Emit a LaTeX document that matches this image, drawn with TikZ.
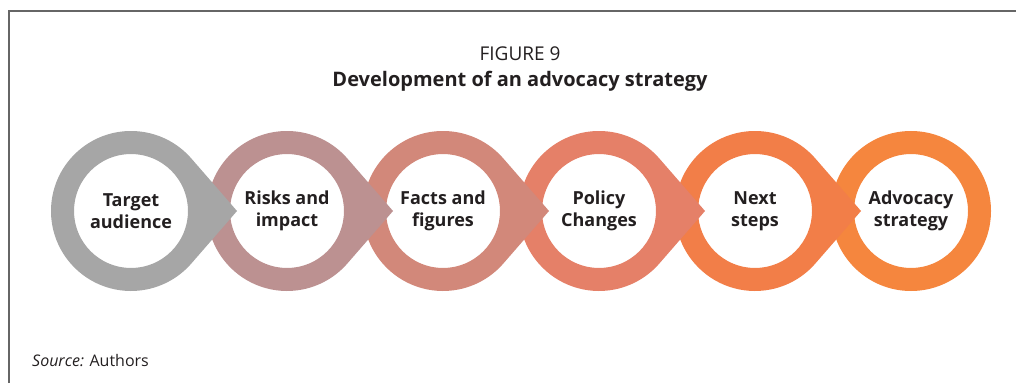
\documentclass[tikz,border=0pt]{standalone}
\usepackage{fontspec}
\setmainfont{Open Sans}
\usetikzlibrary{calc}
\definecolor{dropgray}{RGB}{166,166,166}
\definecolor{droprose}{RGB}{188,145,145}
\definecolor{dropsalmon}{RGB}{210,136,122}
\definecolor{dropcoral}{RGB}{229,128,104}
\definecolor{droporange}{RGB}{242,126,72}
\definecolor{dropamber}{RGB}{245,134,62}
\definecolor{framegray}{RGB}{102,102,102}
\definecolor{textdark}{RGB}{35,31,32}

\begin{document}
\begin{tikzpicture}[
  x=1pt,y=1pt,
  every node/.style={text=textdark,inner sep=0pt},
  lbl/.style={font=\fontsize{18}{22}\selectfont\bfseries,align=center},
  ring/.style={even odd rule}
]
\useasboundingbox (0,0) rectangle (1016,383);
\draw[framegray,line width=1.5pt] (9,0) -- (9,372) -- (1016,372);

% heading
\node[font=\fontsize{19}{23}\selectfont,anchor=base] (fig) at (520,322) {FIGURE 9};
\node[font=\fontsize{20}{24}\selectfont\bfseries,anchor=base] (title) at (520,296) {Development of an advocacy strategy};

\coordinate (c1) at (131,172);
\coordinate (c2) at (287,172);
\coordinate (c3) at (443,172);
\coordinate (c4) at (599,172);
\coordinate (c5) at (755,172);
\coordinate (c6) at (911,172);

% rings, last one first so each tip lies over the next ring
\fill[dropamber,ring] (c6) circle[radius=80] (c6) circle[radius=57];
\foreach \c/\col in {c5/droporange,c4/dropcoral,c3/dropsalmon,c2/droprose,c1/dropgray}
  \fill[\col,ring] ($(\c)+(106,0)$) -- ($(\c)+(41:80)$) arc[start angle=41,end angle=319,radius=80] -- cycle
    (\c) circle[radius=57];

\node[lbl] (ta) at (c1) {Target\\audience};
\node[lbl] (ri) at (c2) {Risks and\\impact};
\node[lbl] (ff) at (c3) {Facts and\\figures};
\node[lbl] (pc) at (c4) {Policy\\Changes};
\node[lbl] (ns) at (c5) {Next\\steps};
\node[lbl] (as) at (c6) {Advocacy\\strategy};

\node[font=\fontsize{16}{19}\selectfont,anchor=base west] (src) at (32,17) {\textit{Source:} Authors};
\end{tikzpicture}
\end{document}
